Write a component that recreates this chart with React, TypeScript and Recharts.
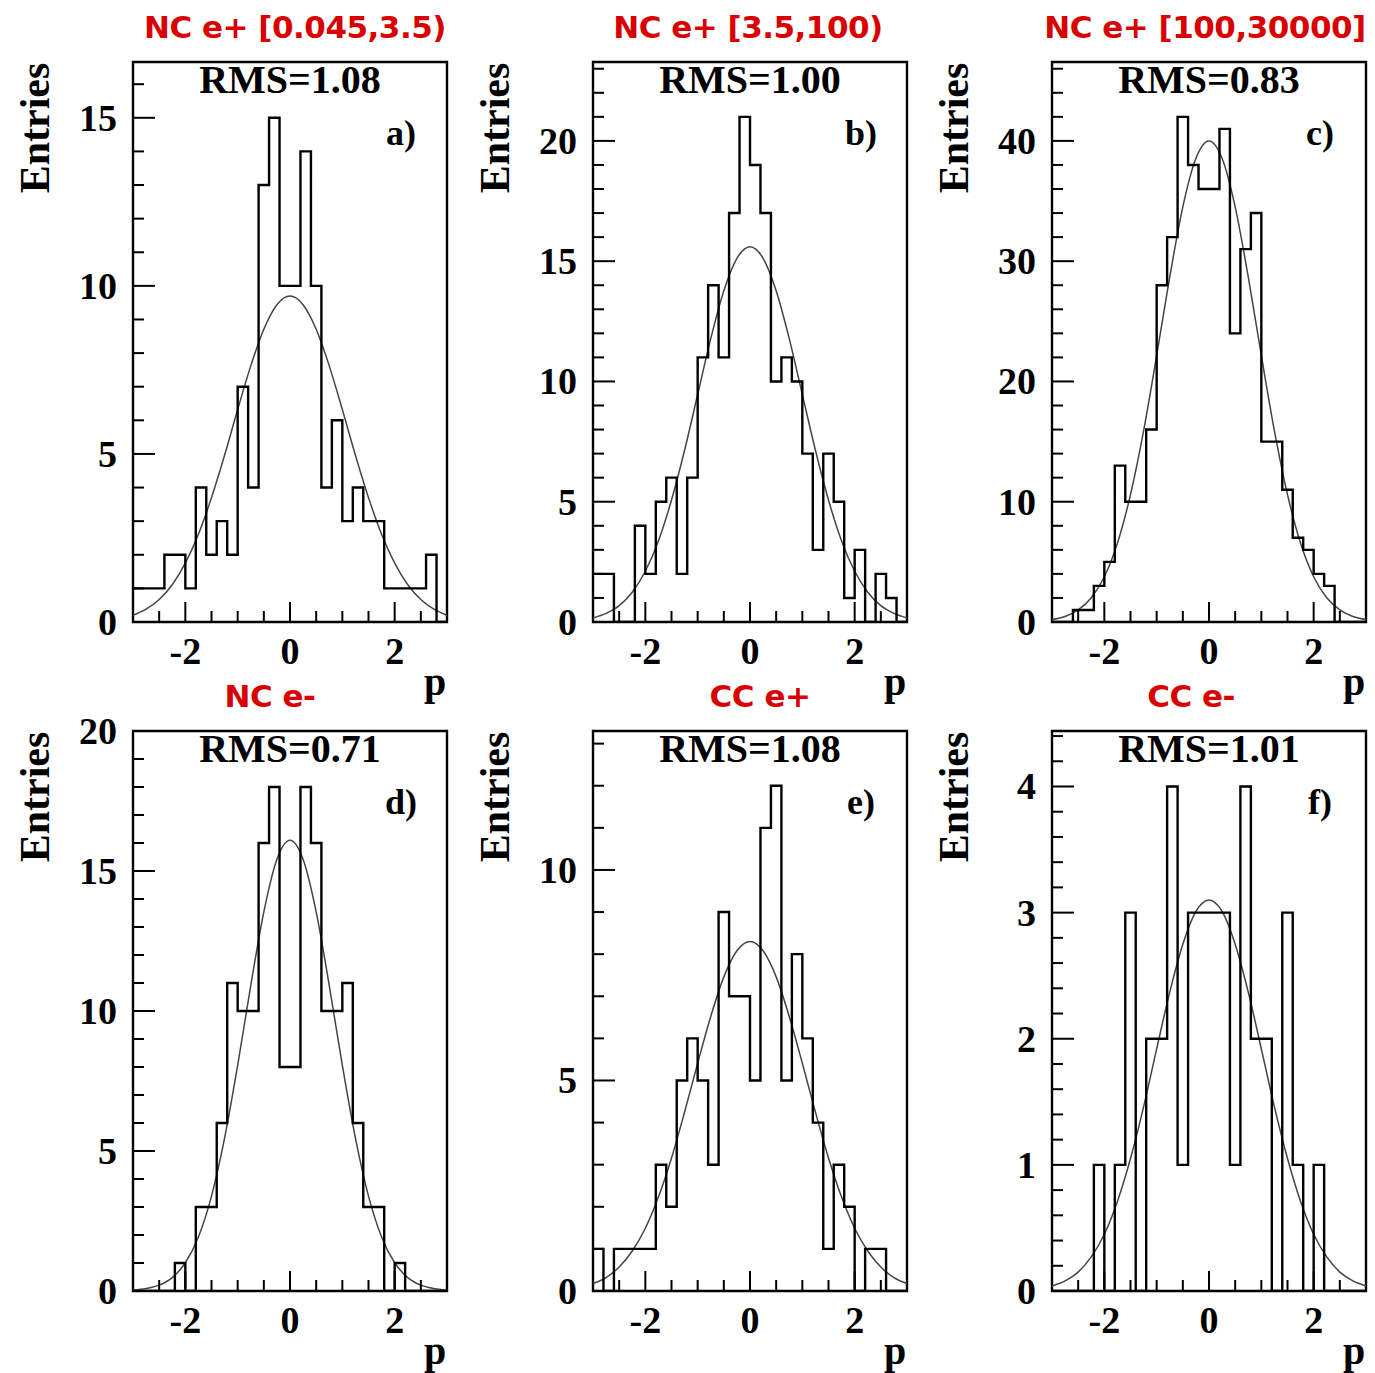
import React from 'react';
import { ComposedChart, Line, XAxis, YAxis, ReferenceArea } from 'recharts';

// bin low edges (bin width 0.2) and points where the fitted curve was read
const binLow = [-3, -2.8, -2.6, -2.4, -2.2, -2, -1.8, -1.6, -1.4, -1.2, -1, -0.8, -0.6, -0.4, -0.2,
  0, 0.2, 0.4, 0.6, 0.8, 1, 1.2, 1.4, 1.6, 1.8, 2, 2.2, 2.4, 2.6, 2.8];
const fitX = [-3, -2.75, -2.5, -2.25, -2, -1.75, -1.5, -1.25, -1, -0.75, -0.5, -0.25, 0,
  0.25, 0.5, 0.75, 1, 1.25, 1.5, 1.75, 2, 2.25, 2.5, 2.75, 3];

const countsA = [1, 1, 1, 2, 2, 1, 4, 2, 3, 2, 7, 4, 13, 15, 10, 10, 14, 10, 4, 6, 3, 4, 3, 3, 1, 1, 1, 1, 2, 0];
const countsB = [2, 2, 0, 0, 4, 2, 5, 6, 2, 6, 11, 14, 11, 17, 21, 19, 17, 10, 11, 10, 7, 3, 7, 5, 1, 3, 0, 2, 1, 0];
const countsC = [0, 0, 1, 1, 3, 5, 13, 10, 10, 16, 28, 32, 42, 38, 36, 36, 41, 24, 31, 34, 15, 15, 11, 7, 6, 4, 3, 0, 0, 0];
const countsD = [0, 0, 0, 0, 1, 0, 3, 3, 6, 11, 10, 10, 16, 18, 8, 8, 18, 16, 10, 10, 11, 6, 3, 3, 0, 1, 0, 0, 0, 0];
const countsE = [1, 0, 1, 1, 1, 1, 3, 2, 5, 6, 5, 3, 9, 7, 7, 5, 11, 12, 5, 8, 6, 4, 1, 3, 2, 0, 1, 1, 0, 0];
const countsF = [0, 0, 0, 0, 1, 0, 1, 3, 0, 2, 2, 4, 1, 3, 3, 3, 3, 1, 4, 2, 2, 0, 3, 1, 0, 1, 0, 0, 0, 0];

const fitA = [0.2, 0.38, 0.67, 1.11, 1.75, 2.61, 3.7, 4.96, 6.32, 7.62, 8.71, 9.44, 9.7,
  9.44, 8.71, 7.62, 6.32, 4.96, 3.7, 2.61, 1.75, 1.11, 0.67, 0.38, 0.2];
const fitB = [0.17, 0.36, 0.68, 1.24, 2.11, 3.37, 5.07, 7.14, 9.46, 11.78, 13.77, 15.12, 15.6,
  15.12, 13.77, 11.78, 9.46, 7.14, 5.07, 3.37, 2.11, 1.24, 0.68, 0.36, 0.17];
const fitC = [0.2, 0.46, 1.0, 2.01, 3.76, 6.55, 10.59, 15.89, 22.16, 28.69, 34.51, 38.55, 40,
  38.55, 34.51, 28.69, 22.16, 15.89, 10.59, 6.55, 3.76, 2.01, 1.0, 0.46, 0.2];
const fitD = [0.03, 0.09, 0.21, 0.48, 1.01, 1.93, 3.39, 5.46, 8.06, 10.91, 13.54, 15.42, 16.1,
  15.42, 13.54, 10.91, 8.06, 5.46, 3.39, 1.93, 1.01, 0.48, 0.21, 0.09, 0.03];
const fitE = [0.18, 0.32, 0.57, 0.95, 1.49, 2.23, 3.16, 4.25, 5.41, 6.52, 7.46, 8.08, 8.3,
  8.08, 7.46, 6.52, 5.41, 4.25, 3.16, 2.23, 1.49, 0.95, 0.57, 0.32, 0.18];
const fitF = [0.04, 0.08, 0.15, 0.27, 0.45, 0.71, 1.05, 1.46, 1.92, 2.37, 2.75, 3.01, 3.1,
  3.01, 2.75, 2.37, 1.92, 1.46, 1.05, 0.71, 0.45, 0.27, 0.15, 0.08, 0.04];

const titles = ['NC e+ [0.045,3.5)', 'NC e+ [3.5,100)', 'NC e+ [100,30000]', 'NC e-', 'CC e+', 'CC e-'];
const rmsLabels = ['RMS=1.08', 'RMS=1.00', 'RMS=0.83', 'RMS=0.71', 'RMS=1.08', 'RMS=1.01'];
const panelLetters = ['a)', 'b)', 'c)', 'd)', 'e)', 'f)'];
const yMax = [16.66, 23.28, 46.56, 20, 13.3, 4.44];
const yMajorTicks = [[0, 5, 10, 15], [0, 5, 10, 15, 20], [0, 10, 20, 30, 40], [0, 5, 10, 15, 20], [0, 5, 10], [0, 1, 2, 3, 4]];
const yMinorStep = [1, 1, 2, 1, 1, 0.2];
const xMajorTicks = [-2, 0, 2];
const xAllTicks = [-2.5, -2, -1.5, -1, -0.5, 0, 0.5, 1, 1.5, 2, 2.5];

const allCounts = [countsA, countsB, countsC, countsD, countsE, countsF];
const allFits = [fitA, fitB, fitC, fitD, fitE, fitF];

const plotLeft = [133, 593, 1052];
const plotTop = [62, 731];
const titleX = [295, 748, 1205, 270, 760, 1191];
const PW = 314;
const PH = 560;

const serif = '"Liberation Serif", "Times New Roman", serif';

const isMajor = (v: number, majors: number[]) => majors.some((m) => Math.abs(m - v) < 1e-6);

const YTick = (props: any) => {
  const { x, y, payload, majors } = props;
  const major = isMajor(payload.value, majors);
  return (
    <g>
      <line x1={x} x2={x + (major ? 22 : 11)} y1={y} y2={y} stroke="#000" strokeWidth={2} />
      {major && (
        <text x={x - 16} y={y} textAnchor="end" dominantBaseline="central"
          style={{ fontFamily: serif, fontWeight: 700, fontSize: 38, fill: '#000' }}>
          {payload.value}
        </text>
      )}
    </g>
  );
};

const XTick = (props: any) => {
  const { x, y, payload } = props;
  const major = isMajor(payload.value, xMajorTicks);
  return (
    <g>
      <line x1={x} x2={x} y1={y} y2={y - (major ? 20 : 11)} stroke="#000" strokeWidth={2} />
      {major && (
        <text x={x} y={y + 29} textAnchor="middle" dominantBaseline="central"
          style={{ fontFamily: serif, fontWeight: 700, fontSize: 38, fill: '#000' }}>
          {payload.value}
        </text>
      )}
    </g>
  );
};

const Panel = ({ idx }: { idx: number }) => {
  const counts = allCounts[idx];
  const fit = allFits[idx];
  const histData = binLow.map((x, i) => ({ x, y: counts[i] }));
  histData.push({ x: 3, y: counts[counts.length - 1] });
  const fitData = fitX.map((x, i) => ({ x, y: fit[i] }));
  const step = yMinorStep[idx];
  const yTicks: number[] = [];
  for (let v = 0; v <= yMax[idx] + 1e-6; v += step) yTicks.push(Math.round(v * 100) / 100);

  const left = plotLeft[idx % 3];
  const top = plotTop[Math.floor(idx / 3)];

  return (
    <>
      <div style={{ position: 'absolute', left: left - 100, top: top - 30 }}>
        <ComposedChart width={434} height={650} margin={{ top: 30, right: 20, bottom: 10, left: 40 }}>
          <XAxis type="number" dataKey="x" domain={[-3, 3]} allowDataOverflow ticks={xAllTicks}
            interval={0} tickSize={0} tickMargin={0} axisLine={false} tickLine={false} height={50}
            tick={<XTick />} />
          <YAxis type="number" domain={[0, yMax[idx]]} allowDataOverflow ticks={yTicks}
            interval={0} tickSize={0} tickMargin={0} axisLine={false} tickLine={false} width={60}
            tick={<YTick majors={yMajorTicks[idx]} />} />
          <Line data={fitData} dataKey="y" type="monotone" stroke="#444" strokeWidth={1.5}
            dot={false} activeDot={false} isAnimationActive={false} />
          <Line data={histData} dataKey="y" type="stepAfter" stroke="#000" strokeWidth={2.4}
            dot={false} activeDot={false} isAnimationActive={false} />
          <ReferenceArea x1={-3} x2={3} y1={0} y2={yMax[idx]} fill="none" fillOpacity={0}
            stroke="#000" strokeWidth={2.4} ifOverflow="visible" />
        </ComposedChart>
      </div>
      <div style={{
        position: 'absolute', left: titleX[idx], top: top - 35, transform: 'translate(-50%, -50%)',
        fontFamily: '"DejaVu Sans", sans-serif', fontWeight: 700, fontSize: 31, color: '#d80000',
        whiteSpace: 'nowrap', lineHeight: 1, letterSpacing: -0.5,
      }}>{titles[idx]}</div>
      <div style={{
        position: 'absolute', left: left + PW / 2, top: top + 18, transform: 'translate(-50%, -50%)',
        fontFamily: serif, fontWeight: 700, fontSize: 40, lineHeight: 1, whiteSpace: 'nowrap',
      }}>{rmsLabels[idx]}</div>
      <div style={{
        position: 'absolute', left: left + 268, top: top + 71, transform: 'translate(-50%, -50%)',
        fontFamily: serif, fontWeight: 700, fontSize: 36, lineHeight: 1, whiteSpace: 'nowrap',
      }}>{panelLetters[idx]}</div>
      <div style={{
        position: 'absolute', left: left - 98, top: top + 66, transform: 'translate(-50%, -50%) rotate(-90deg)',
        fontFamily: serif, fontWeight: 700, fontSize: 42, lineHeight: 1, whiteSpace: 'nowrap',
      }}>Entries</div>
      <div style={{
        position: 'absolute', left: left + 302, top: top + PH + 60, transform: 'translate(-50%, -50%)',
        fontFamily: serif, fontWeight: 700, fontSize: 40, lineHeight: 1,
      }}>p</div>
    </>
  );
};

export default function App() {
  return (
    <div style={{ position: 'absolute', left: 0, top: 0, width: 1375, height: 1373, background: '#fff' }}>
      {[0, 1, 2, 3, 4, 5].map((i) => <Panel key={i} idx={i} />)}
    </div>
  );
}
